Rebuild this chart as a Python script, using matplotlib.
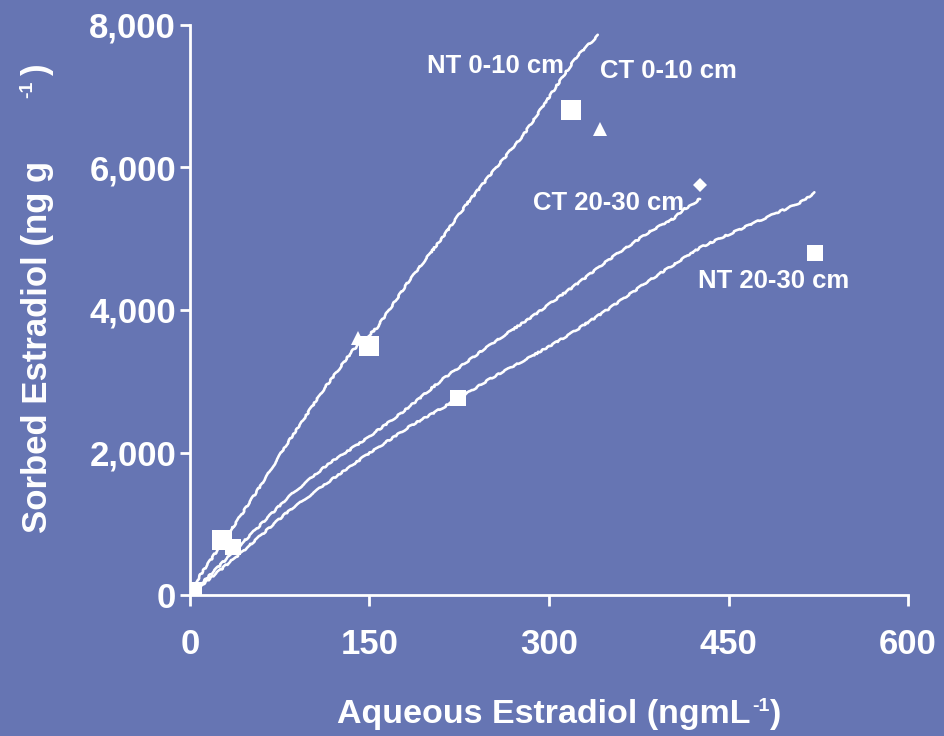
import matplotlib
matplotlib.use("Agg")
import matplotlib.pyplot as plt

# ------- values ------- #
bg = "#6675b3"

# measured points (aqueous ng/mL, sorbed ng/g)
ntTopC = [1.7, 27, 150, 318.5]
ntTopS = [42, 770, 3497, 6800]
ctTopC = [1.5, 25, 140, 343]
ctTopS = [50, 800, 3610, 6545]
ctLowC = [2, 33, 426]
ctLowS = [40, 700, 5758]
ntLowC = [2, 36, 224, 522]
ntLowS = [30, 674, 2760, 4803]

# fitted isotherm curves (traced)
fitTopC = [0, 8.4, 33.4, 55.7, 80.8, 111.4, 136.4, 156, 181, 208.9, 231.2, 250.6, 278.5, 306.3, 323, 341]
fitTopS = [0, 274, 888, 1449, 2114, 2879, 3441, 3747, 4361, 4973, 5484, 5892, 6454, 7143, 7552, 7858]
fitCtLowC = [0, 50, 83.5, 117, 144.8, 178.2, 211.6, 245, 289.6, 323, 351, 384.3, 405.2, 411.9, 420.2, 426]
fitCtLowS = [0, 836, 1397, 1858, 2164, 2573, 3034, 3441, 3952, 4361, 4719, 5102, 5295, 5407, 5478, 5562]
fitNtLowC = [0, 41.8, 83.5, 117, 144.8, 183.8, 222.8, 250.6, 284, 317.5, 351, 384.3, 426, 468, 509.6, 522]
fitNtLowS = [0, 581, 1194, 1603, 1934, 2368, 2740, 3034, 3335, 3660, 4030, 4420, 4874, 5197, 5506, 5646]

xTicks = [0, 150, 300, 450, 600]
xTickLabels = ["0", "150", "300", "450", "600"]
yTicks = [0, 2000, 4000, 6000, 8000]
yTickLabels = ["0", "2,000", "4,000", "6,000", "8,000"]

plt.rcParams["font.family"] = ["Liberation Sans", "DejaVu Sans"]
plt.rcParams["font.weight"] = "bold"

fig = plt.figure(figsize=(9.45, 7.36), dpi=100, facecolor=bg)
W, H = 945.0, 736.0
ax = fig.add_axes([190 / W, 1 - 595 / H, 718 / W, 570 / H], facecolor=bg)

# curves with a slight hand-traced wobble
for c, s in [(fitTopC, fitTopS), (fitCtLowC, fitCtLowS), (fitNtLowC, fitNtLowS)]:
    line, = ax.plot(c, s, color="white", lw=1.9, solid_capstyle="round", zorder=2)
    line.set_sketch_params(scale=0.7, length=22, randomness=10)

ax.plot(ntTopC, ntTopS, "s", color="white", ms=14, mew=0, zorder=3)
ax.plot(ctTopC, ctTopS, "^", color="white", ms=10, mew=0, zorder=3)
ax.plot(ctLowC, ctLowS, "D", color="white", ms=7, mew=0, zorder=3)
ax.plot(ntLowC, ntLowS, "s", color="white", ms=11, mew=0, zorder=3)

ax.set_xlim(0, 600)
ax.set_ylim(0, 8000)
ax.set_xticks(xTicks)
ax.set_xticklabels(xTickLabels)
ax.set_yticks(yTicks)
ax.set_yticklabels(yTickLabels)

for side in ["top", "right"]:
    ax.spines[side].set_visible(False)
for side in ["left", "bottom"]:
    ax.spines[side].set_color("white")
    ax.spines[side].set_linewidth(2)
ax.tick_params(axis="both", colors="white", labelsize=25, width=2)
ax.tick_params(axis="x", length=8, pad=16)
ax.tick_params(axis="y", length=7, pad=3)
for lab in ax.get_xticklabels() + ax.get_yticklabels():
    lab.set_fontweight("bold")

# series labels
lblKw = dict(color="white", fontsize=18.5, fontweight="bold", ha="left", va="baseline")
ax.text(198, 7323, "NT 0-10 cm", **lblKw)
ax.text(342.5, 7261, "CT 0-10 cm", **lblKw)
ax.text(286.5, 5407, "CT 20-30 cm", **lblKw)
ax.text(424.4, 4312, "NT 20-30 cm", **lblKw)

# axis titles (placed in pixel space, as in the source)
txtKw = dict(color="white", fontweight="bold")
fig.text(337 / W, 1 - 723 / H, "Aqueous Estradiol (ngmL", fontsize=24.5, ha="left", va="baseline", **txtKw)
fig.text(752 / W, 1 - 711 / H, "-1", fontsize=14, ha="left", va="baseline", **txtKw)
fig.text(770 / W, 1 - 723 / H, ")", fontsize=24.5, ha="left", va="baseline", **txtKw)

fig.text(47 / W, 1 - 533 / H, "Sorbed Estradiol (ng g", fontsize=25, rotation=90,
         rotation_mode="anchor", ha="left", va="baseline", **txtKw)
fig.text(32 / W, 1 - 98 / H, "-1", fontsize=14, rotation=90,
         rotation_mode="anchor", ha="left", va="baseline", **txtKw)
fig.text(47 / W, 1 - 75 / H, ")", fontsize=25, rotation=90,
         rotation_mode="anchor", ha="left", va="baseline", **txtKw)

fig.savefig("out.png", dpi=100, facecolor=bg)
